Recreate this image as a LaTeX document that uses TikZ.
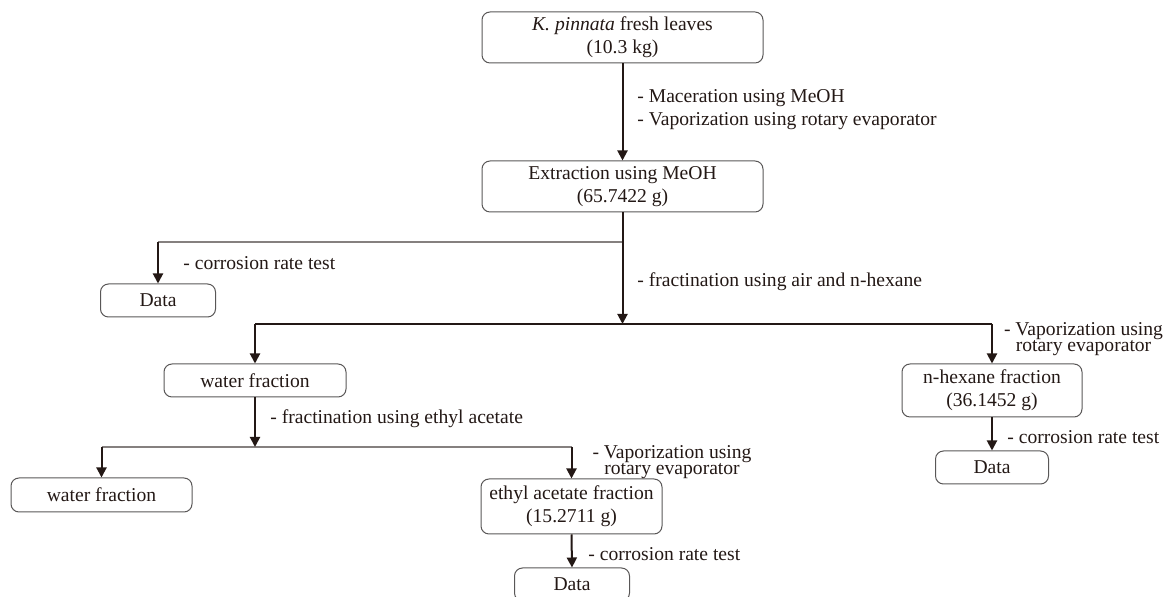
\documentclass[tikz,border=0pt]{standalone}
\usepackage{fontspec}
\setmainfont{Liberation Serif}
\usetikzlibrary{arrows.meta}
\definecolor{ink}{HTML}{231815}
\definecolor{frame}{HTML}{595757}
\definecolor{hline}{HTML}{85807F}
\begin{document}
\begin{tikzpicture}[x=0.5pt,y=-0.5pt,
  font=\fontsize{9.8pt}{11.5pt}\selectfont, text=ink,
  box/.style={draw=frame, line width=0.5pt, rounded corners=4pt, align=center, inner sep=0pt},
  arr/.style={draw=ink, line width=1pt, -{Triangle[width=5pt,length=5pt]}},
  hl/.style={draw=hline, line width=0.8pt},
  hldark/.style={draw=ink, line width=0.7pt},
  lbl/.style={anchor=west, inner sep=0pt},
  lbltwo/.style={align=center, inner sep=0pt}]
\useasboundingbox (0,0) rectangle (1168,597);
\clip (0,0) rectangle (1168,597);
% boxes
\node[box, minimum width=140.5pt, minimum height=25.5pt] (b1) at (622.5,37.5) {\textit{K. pinnata} fresh leaves\\(10.3 kg)};
\node[box, minimum width=140.5pt, minimum height=25.5pt] (b2) at (622.5,186.5) {Extraction using MeOH\\(65.7422 g)};
\node[box, minimum width=57.5pt, minimum height=16.5pt] (d1) at (158,300.5) {Data};
\node[box, minimum width=91pt, minimum height=16.5pt] (w1) at (255,380.5) {water fraction};
\node[box, minimum width=90pt, minimum height=26.5pt] (h1) at (992,390.5) {n-hexane fraction\\(36.1452 g)};
\node[box, minimum width=56.5pt, minimum height=16.5pt] (d3) at (992,467.5) {Data};
\node[box, minimum width=90.5pt, minimum height=17pt] (w2) at (101.5,495) {water fraction};
\node[box, minimum width=90.5pt, minimum height=27.5pt] (e1) at (571.5,506.5) {ethyl acetate fraction\\(15.2711 g)};
\node[box, minimum width=57.5pt, minimum height=16.5pt] (d2) at (572,584.5) {Data};
% junctions
\coordinate (j1) at (622.5,242);
\coordinate (j1l) at (158,242);
\coordinate (j2) at (622.5,324);
\coordinate (j2l) at (255,324);
\coordinate (j2r) at (992,324);
\coordinate (j3) at (255,447);
\coordinate (j3l) at (101.5,447);
\coordinate (j3r) at (571.5,447);
% connectors
\draw[hl] (j1) -- (j1l);
\draw[hldark] (j2l) -- (j2r);
\draw[hl] (j3l) -- (j3r);
\draw[arr] (b1) -- (b2);
\draw[arr] (b2.south) -- (j2);
\draw[arr] (j1l) -- (d1.north);
\draw[arr] (j2l) -- (w1.north);
\draw[arr] (j2r) -- (h1.north);
\draw[arr] (w1.south) -- (j3);
\draw[arr] (j3l) -- (w2.north);
\draw[arr] (j3r) -- (e1.north);
\draw[arr] (h1.south) -- (d3.north);
\draw[arr] (e1.south) -- (d2.north);
% labels
\node[lbl] (l1) at (637,98) {- Maceration using MeOH};
\node[lbl] (l2) at (637,121) {- Vaporization using rotary evaporator};
\node[lbl] (l3) at (183,263) {- corrosion rate test};
\node[lbl] (l4) at (637,282) {- fractination using air and n-hexane};
\node[lbltwo] (l5) at (1083.5,339) {- Vaporization using\\[-3.8pt]rotary evaporator};
\node[lbl] (l6) at (1007,437) {- corrosion rate test};
\node[lbl] (l7) at (270,419) {- fractination using ethyl acetate};
\node[lbltwo] (l8) at (672,462) {- Vaporization using\\[-3.8pt]rotary evaporator};
\node[lbl] (l9) at (588,554) {- corrosion rate test};
\end{tikzpicture}
\end{document}
